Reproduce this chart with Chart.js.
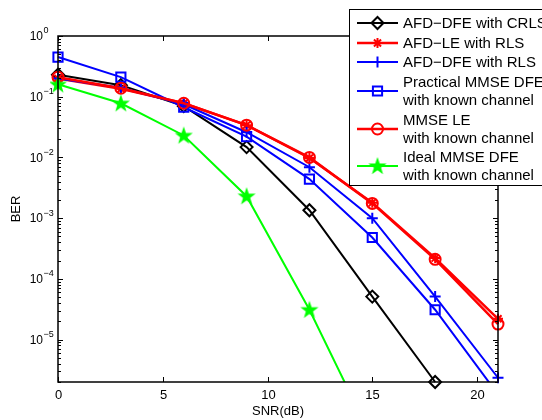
<!DOCTYPE html>
<html>
<head>
<meta charset="utf-8">
<script src="https://cdn.jsdelivr.net/npm/chart.js@4/dist/chart.umd.min.js"></script>
<style>
  html, body { margin: 0; padding: 0; background: #fff; }
  canvas { display: block; }
</style>
</head>
<body>
<canvas id="berChart" width="542" height="420"></canvas>
<script>
// SNR points (dB)
const snr = [0, 3, 6, 9, 12, 15, 18, 21];

// BER curves
const berAfdDfeCrls = [0.23, 0.155, 0.07, 0.0148, 1.35e-3, 5.1e-5, 2.0e-6, null];
const berAfdLeRls = [0.2, 0.135, 0.078, 0.034, 0.0098, 1.8e-3, 2.2e-4, 2.2e-5];
const berAfdDfeRls = [0.2, 0.14, 0.075, 0.026, 6.9e-3, 1.0e-3, 5.1e-5, 2.35e-6];
const berPracticalDfe = [0.45, 0.21, 0.067, 0.022, 4.4e-3, 4.8e-4, 3.1e-5, 1.25e-6];
const berMmseLe = [0.21, 0.138, 0.078, 0.034, 0.0100, 1.75e-3, 2.1e-4, 1.8e-5];
const berIdealDfe = [0.16, 0.078, 0.023, 2.3e-3, 3.1e-5, 2.3e-7, null, null];

const legendLabels = [
    ['AFD\u2212DFE with CRLS'],
    ['AFD\u2212LE with RLS'],
    ['AFD\u2212DFE with RLS'],
    ['Practical MMSE DFE', 'with known channel'],
    ['MMSE LE', 'with known channel'],
    ['Ideal MMSE DFE', 'with known channel'],
];

const xTicks = [0, 5, 10, 15, 20];
const yDecades = [0, -1, -2, -3, -4, -5];

// filled five point star marker
const starMarker = (() => {
    const c = document.createElement('canvas');
    c.width = 20;
    c.height = 20;
    const g = c.getContext('2d');
    g.fillStyle = '#00ff00';
    g.beginPath();
    for (let i = 0; i < 10; i++) {
        const r = i % 2 ? 3.8 : 9.5;
        const a = -Math.PI / 2 + i * Math.PI / 5;
        g.lineTo(10 + r * Math.cos(a), 10.5 + r * Math.sin(a));
    }
    g.closePath();
    g.fill();
    return c;
})();

function toPoints(values) {
    return snr.map((x, i) => ({ x: x, y: values[i] }));
}

const markerClip = { left: 8, right: 8, top: 8, bottom: 8 };
const lineClip = { left: 8, right: 8, top: 8, bottom: 0 };

const datasets = [
    { data: toPoints(berAfdDfeCrls), borderColor: '#000000', pointStyle: 'rectRot', pointRadius: 6, borderWidth: 2, clip: markerClip },
    { data: toPoints(berAfdLeRls), borderColor: '#ff0000', pointStyle: 'star', pointRadius: 5, borderWidth: 2.5, clip: markerClip },
    { data: toPoints(berAfdDfeRls), borderColor: '#0000ff', pointStyle: 'cross', pointRadius: 5.5, borderWidth: 2, clip: markerClip },
    { data: toPoints(berPracticalDfe), borderColor: '#0000ff', pointStyle: 'rect', pointRadius: 6.5, borderWidth: 2, clip: lineClip },
    { data: toPoints(berMmseLe), borderColor: '#ff0000', pointStyle: 'circle', pointRadius: 5.5, borderWidth: 2.5, clip: markerClip },
    { data: toPoints(berIdealDfe), borderColor: '#00ff00', pointStyle: starMarker, pointRadius: 9, borderWidth: 2, clip: lineClip },
];

datasets.forEach((ds, i) => {
    ds.label = legendLabels[i].join(' ');
    ds.backgroundColor = 'rgba(0,0,0,0)';
    ds.pointBackgroundColor = 'rgba(0,0,0,0)';
    ds.pointBorderColor = ds.borderColor;
    ds.pointBorderWidth = 2;
    ds.tension = 0;
    ds.spanGaps = false;
    ds.order = datasets.length - i; // later series drawn on top
});

const matlabAxes = {
    id: 'matlabAxes',
    afterDraw(chart) {
        const ctx = chart.ctx;
        const xs = chart.scales.x;
        const ys = chart.scales.y;
        const left = xs.left, right = xs.right, top = ys.top, bottom = ys.bottom;

        ctx.save();
        ctx.strokeStyle = '#000';
        ctx.fillStyle = '#000';
        ctx.lineWidth = 1.5;
        ctx.strokeRect(left, top, right - left, bottom - top);

        // x ticks, inward on bottom and top
        ctx.lineWidth = 1;
        ctx.font = '13px "Liberation Sans", Arial, sans-serif';
        ctx.textAlign = 'center';
        ctx.textBaseline = 'middle';
        xTicks.forEach(v => {
            const px = Math.round(xs.getPixelForValue(v)) + 0.5;
            ctx.beginPath();
            ctx.moveTo(px, bottom); ctx.lineTo(px, bottom - 5);
            ctx.moveTo(px, top); ctx.lineTo(px, top + 5);
            ctx.stroke();
            ctx.fillText(String(v), px, 395);
        });

        // y ticks, major and minor, inward on both sides
        for (let d = -6; d <= 0; d++) {
            for (let m = 1; m <= 9; m++) {
                const v = m * Math.pow(10, d);
                if (v < ys.min * 0.999 || v > ys.max * 1.001) continue;
                const py = Math.round(ys.getPixelForValue(v)) + 0.5;
                const len = m === 1 ? 5 : 3;
                ctx.beginPath();
                ctx.moveTo(left, py); ctx.lineTo(left + len, py);
                ctx.moveTo(right, py); ctx.lineTo(right - len, py);
                ctx.stroke();
            }
        }
        yDecades.forEach(e => {
            const py = ys.getPixelForValue(Math.pow(10, e));
            ctx.font = '12px "Liberation Sans", Arial, sans-serif';
            ctx.textAlign = 'right';
            ctx.fillText('10', 43, py + 1);
            ctx.font = '9px "Liberation Sans", Arial, sans-serif';
            ctx.textAlign = 'left';
            ctx.fillText(e === 0 ? '0' : '\u2212' + (-e), 43.5, py - 5);
        });

        // axis titles
        ctx.font = '13px "Liberation Sans", Arial, sans-serif';
        ctx.textAlign = 'center';
        ctx.fillText('SNR(dB)', (left + right) / 2, 411);
        ctx.save();
        ctx.translate(16, (top + bottom) / 2);
        ctx.rotate(-Math.PI / 2);
        ctx.fillText('BER', 0, 0);
        ctx.restore();

        // legend box
        const bx = 349, by = 9, bw = 200, bh = 176;
        ctx.fillStyle = '#fff';
        ctx.fillRect(bx, by, bw, bh);
        ctx.strokeStyle = '#000';
        ctx.lineWidth = 1;
        ctx.strokeRect(bx + 0.5, by + 0.5, bw, bh);

        const rowY = [[23], [43], [62], [82, 100], [120, 138], [157, 175]];
        ctx.font = '15px "Liberation Sans", Arial, sans-serif';
        ctx.textAlign = 'left';
        ctx.textBaseline = 'middle';
        chart.data.datasets.forEach((ds, i) => {
            const ys2 = rowY[i];
            const my = (ys2[0] + ys2[ys2.length - 1]) / 2;
            ctx.strokeStyle = ds.borderColor;
            ctx.lineWidth = ds.borderWidth;
            ctx.beginPath();
            ctx.moveTo(357, my); ctx.lineTo(398, my);
            ctx.stroke();
            ctx.fillStyle = 'rgba(0,0,0,0)';
            ctx.lineWidth = ds.pointBorderWidth;
            Chart.helpers.drawPoint(ctx, {
                pointStyle: ds.pointStyle,
                radius: ds.pointRadius,
                rotation: 0,
                borderWidth: ds.pointBorderWidth,
            }, 377.5, my);
            ctx.fillStyle = '#000';
            legendLabels[i].forEach((line, k) => ctx.fillText(line, 403, ys2[k] + 1));
        });
        ctx.restore();
    }
};

new Chart(document.getElementById('berChart'), {
    type: 'line',
    data: { datasets: datasets },
    options: {
        responsive: false,
        animation: false,
        devicePixelRatio: 1,
        layout: {
            padding: { left: 58, right: 44, top: 36, bottom: 38 },
        },
        plugins: {
            legend: { display: false },
            tooltip: { enabled: false },
        },
        scales: {
            x: {
                type: 'linear',
                min: 0,
                max: 21,
                display: false,
            },
            y: {
                type: 'logarithmic',
                min: 2e-6,
                max: 1,
                display: false,
            },
        },
    },
    plugins: [matlabAxes],
});
</script>
</body>
</html>
